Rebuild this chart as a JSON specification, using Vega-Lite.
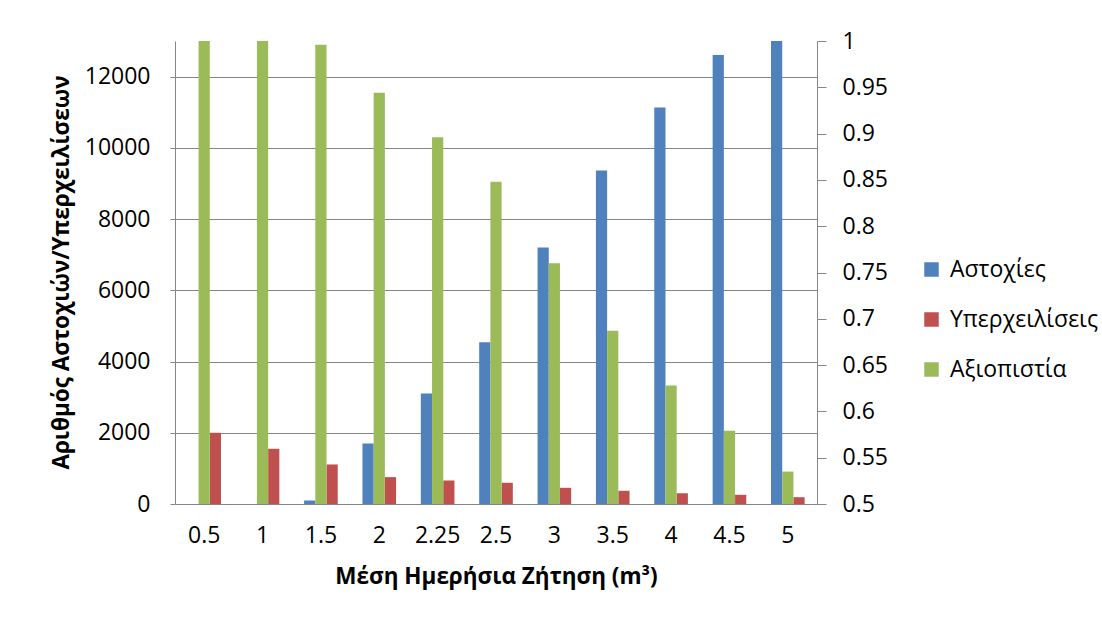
{
  "$schema": "https://vega.github.io/schema/vega-lite/v6.json",
  "width": 642,
  "height": 463,
  "autosize": {"type": "none"},
  "padding": {"left": 175, "top": 41, "right": 285, "bottom": 115},
  "background": "white",
  "config": {
    "view": {"stroke": null},
    "font": "Open Sans",
    "axis": {
      "labelFontSize": 23,
      "labelColor": "#000000",
      "titleColor": "#000000",
      "domainColor": "#868686",
      "tickColor": "#868686",
      "gridColor": "#868686",
      "titleFontSize": 22.5,
      "titleFontWeight": "bold"
    },
    "legend": {"labelFontSize": 23, "labelColor": "#000000"}
  },
  "data": {
    "values": [
      {"cat": "0.5", "series": "Αστοχίες", "value": 0},
      {"cat": "0.5", "series": "Υπερχειλίσεις", "value": 2000},
      {"cat": "0.5", "series": "Αξιοπιστία", "value": 1.0},
      {"cat": "1", "series": "Αστοχίες", "value": 0},
      {"cat": "1", "series": "Υπερχειλίσεις", "value": 1550},
      {"cat": "1", "series": "Αξιοπιστία", "value": 1.0},
      {"cat": "1.5", "series": "Αστοχίες", "value": 100},
      {"cat": "1.5", "series": "Υπερχειλίσεις", "value": 1110},
      {"cat": "1.5", "series": "Αξιοπιστία", "value": 0.996},
      {"cat": "2", "series": "Αστοχίες", "value": 1700},
      {"cat": "2", "series": "Υπερχειλίσεις", "value": 755},
      {"cat": "2", "series": "Αξιοπιστία", "value": 0.944},
      {"cat": "2.25", "series": "Αστοχίες", "value": 3100},
      {"cat": "2.25", "series": "Υπερχειλίσεις", "value": 660},
      {"cat": "2.25", "series": "Αξιοπιστία", "value": 0.896},
      {"cat": "2.5", "series": "Αστοχίες", "value": 4540},
      {"cat": "2.5", "series": "Υπερχειλίσεις", "value": 596},
      {"cat": "2.5", "series": "Αξιοπιστία", "value": 0.848},
      {"cat": "3", "series": "Αστοχίες", "value": 7200},
      {"cat": "3", "series": "Υπερχειλίσεις", "value": 455},
      {"cat": "3", "series": "Αξιοπιστία", "value": 0.76},
      {"cat": "3.5", "series": "Αστοχίες", "value": 9365},
      {"cat": "3.5", "series": "Υπερχειλίσεις", "value": 371},
      {"cat": "3.5", "series": "Αξιοπιστία", "value": 0.687},
      {"cat": "4", "series": "Αστοχίες", "value": 11135},
      {"cat": "4", "series": "Υπερχειλίσεις", "value": 304},
      {"cat": "4", "series": "Αξιοπιστία", "value": 0.628},
      {"cat": "4.5", "series": "Αστοχίες", "value": 12605},
      {"cat": "4.5", "series": "Υπερχειλίσεις", "value": 258},
      {"cat": "4.5", "series": "Αξιοπιστία", "value": 0.579},
      {"cat": "5", "series": "Αστοχίες", "value": 13000},
      {"cat": "5", "series": "Υπερχειλίσεις", "value": 191},
      {"cat": "5", "series": "Αξιοπιστία", "value": 0.535}
    ]
  },
  "encoding": {
    "x": {
      "field": "cat",
      "type": "ordinal",
      "sort": null,
      "scale": {"paddingInner": 0.424, "paddingOuter": 0.212},
      "axis": {
        "title": "Μέση Ημερήσια Ζήτηση (m³)",
        "labelAngle": 0,
        "ticks": false,
        "labelPadding": 20,
        "titlePadding": 18
      }
    },
    "xOffset": {
      "field": "series",
      "type": "nominal",
      "scale": {"domain": ["Αστοχίες", "Αξιοπιστία", "Υπερχειλίσεις"]}
    },
    "color": {
      "field": "series",
      "type": "nominal",
      "scale": {
        "domain": ["Αστοχίες", "Υπερχειλίσεις", "Αξιοπιστία"],
        "range": ["#4F81BD", "#C0504D", "#9BBB59"]
      },
      "legend": {
        "title": null,
        "orient": "none",
        "legendX": 745,
        "legendY": 217,
        "symbolType": "square",
        "symbolSize": 210,
        "symbolStrokeWidth": 0,
        "rowPadding": 26,
        "labelOffset": 7
      }
    }
  },
  "layer": [
    {
      "transform": [{"filter": "datum.series !== 'Αξιοπιστία'"}],
      "mark": {"type": "bar", "clip": true},
      "encoding": {
        "y": {
          "field": "value",
          "type": "quantitative",
          "scale": {"domain": [0, 13000], "nice": false},
          "axis": {
            "title": "Αριθμός Αστοχιών/Υπερχειλίσεων",
            "values": [0, 2000, 4000, 6000, 8000, 10000, 12000],
            "format": "d",
            "grid": true,
            "tickSize": 5,
            "labelPadding": 20,
            "titleAngle": 270,
            "titleX": -114,
            "titleY": 231,
            "titleAlign": "center",
            "titleBaseline": "middle"
          }
        }
      }
    },
    {
      "transform": [{"filter": "datum.series === 'Αξιοπιστία'"}],
      "mark": {"type": "bar", "clip": true},
      "encoding": {
        "y": {
          "field": "value",
          "type": "quantitative",
          "scale": {"domain": [0.5, 1], "nice": false, "zero": false},
          "axis": {
            "orient": "right",
            "title": null,
            "values": [0.5, 0.55, 0.6, 0.65, 0.7, 0.75, 0.8, 0.85, 0.9, 0.95, 1],
            "format": ".2~f",
            "grid": false,
            "tickSize": 9,
            "labelPadding": 16
          }
        },
        "y2": {"datum": 0.5}
      }
    }
  ],
  "resolve": {"scale": {"y": "independent"}}
}
